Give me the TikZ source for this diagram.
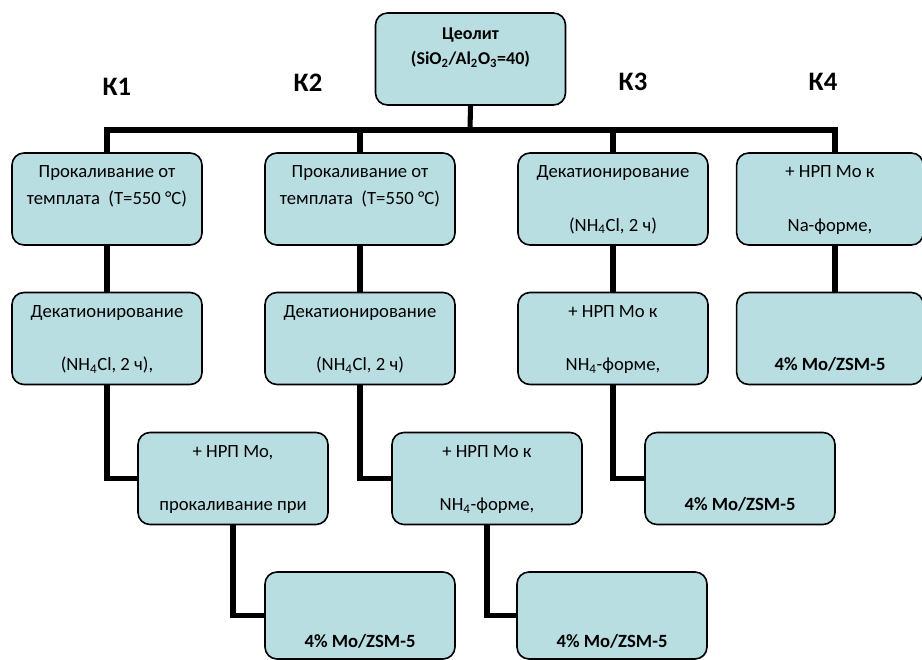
\documentclass[tikz,border=0pt]{standalone}
\usepackage{fontspec}
\setmainfont{Carlito}
\usepackage{xcolor}
\usepackage{tikz}
\definecolor{stagefill}{HTML}{B8DEE2}

% two lines, top aligned, #3 = extra gap between them
\newcommand{\stagetext}[3]{\parbox[c][60pt][t]{140pt}{\centering\strut #1\\[#3]#2}}

\begin{document}
\begin{tikzpicture}[x=0.75pt,y=-0.75pt,
  stage/.style={draw=black, line width=1.2pt, fill=stagefill, rounded corners=9pt,
    inner sep=0pt, minimum width=142.5pt, minimum height=69pt,
    font=\fontsize{14}{20}\selectfont},
  route/.style={line width=3.8pt, black},
  klabel/.style={font=\fontsize{20}{22}\selectfont\bfseries}]
\useasboundingbox (0,0) rectangle (922,660);

% исходный цеолит
\node[stage, font=\fontsize{13.5}{20}\selectfont] (zeo) at (470.5,59) {\stagetext{\rule{0pt}{15.5pt}\bfseries Цеолит}{\bfseries (SiO\textsubscript{2}/Al\textsubscript{2}O\textsubscript{3}=40)}{-1.5pt}};

% подписи схем
\node[klabel] (lab1) at (117,87) {К1};
\node[klabel] (lab2) at (308,83) {К2};
\node[klabel] (lab3) at (633,82) {К3};
\node[klabel] (lab4) at (823,82) {К4};

% первый ряд
\node[stage] (k1a) at (107,199) {\stagetext{Прокаливание от}{темплата\ \ (T=550 °C)}{0pt}};
\node[stage] (k2a) at (360,199) {\stagetext{Прокаливание от}{темплата\ \ (T=550 °C)}{0pt}};
\node[stage] (k3a) at (613,199) {\stagetext{Декатионирование}{(NH\textsubscript{4}Cl, 2 ч)}{20pt}};
\node[stage, minimum width=136.5pt] (k4a) at (830,199) {\stagetext{+ НРП Mo к}{Na-форме,}{20pt}};

% второй ряд
\node[stage] (k1b) at (107,338.5) {\stagetext{Декатионирование}{(NH\textsubscript{4}Cl, 2 ч),}{20pt}};
\node[stage] (k2b) at (360,338.5) {\stagetext{Декатионирование}{(NH\textsubscript{4}Cl, 2 ч)}{20pt}};
\node[stage] (k3b) at (613,338.5) {\stagetext{+ НРП Mo к}{NH\textsubscript{4}-форме,}{20pt}};
\node[stage, minimum width=136.5pt] (k4b) at (830,338.5) {\stagetext{}{\bfseries 4\% Mo/ZSM-5}{20pt}};

% третий ряд
\node[stage] (k1c) at (233,478.5) {\stagetext{+ НРП Mo,}{прокаливание при}{20pt}};
\node[stage] (k2c) at (487,478.5) {\stagetext{+ НРП Mo к}{NH\textsubscript{4}-форме,}{20pt}};
\node[stage] (k3c) at (740,478.5) {\stagetext{}{\bfseries 4\% Mo/ZSM-5}{20pt}};

% четвёртый ряд
\node[stage, minimum height=65.25pt] (k1d) at (360,615.5) {\stagetext{}{\bfseries 4\% Mo/ZSM-5}{20pt}};
\node[stage, minimum height=65.25pt] (k2d) at (612,615.5) {\stagetext{}{\bfseries 4\% Mo/ZSM-5}{20pt}};

% связи
\coordinate (bus) at (470,130);
\draw[route] (zeo.south) -- (bus);
\draw[route] (k1a.north) |- (bus);
\draw[route] (k2a.north) |- (bus);
\draw[route] (k3a.north) |- (bus);
\draw[route] ([xshift=3.75pt]k4a.north) |- (bus);

\draw[route] (k1a) -- (k1b);
\draw[route] (k2a) -- (k2b);
\draw[route] (k3a) -- (k3b);
\draw[route] ([xshift=3.75pt]k4a.south) -- ([xshift=3.75pt]k4b.north);

\draw[route] (k1b.south) |- (k1c.west);
\draw[route] (k1c.south) |- (k1d.west);
\draw[route] (k2b.south) |- (k2c.west);
\draw[route] (k2c.south) |- (k2d.west);
\draw[route] (k3b.south) |- (k3c.west);
\end{tikzpicture}
\end{document}
